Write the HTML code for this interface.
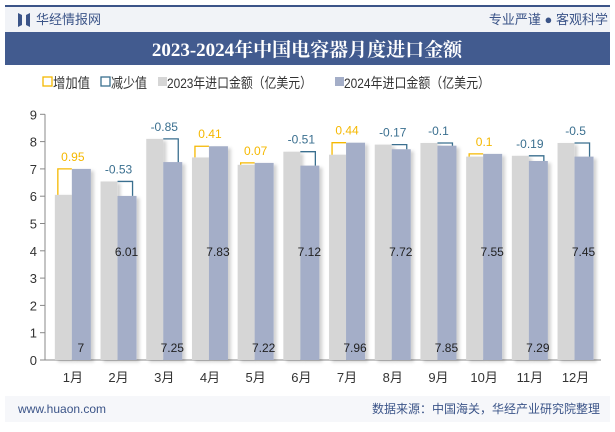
<!DOCTYPE html>
<html><head><meta charset="utf-8"><style>
body{margin:0;width:615px;height:427px;overflow:hidden;background:#fff;font-family:"Liberation Sans","Noto Sans CJK SC",sans-serif;}
</style></head><body>
<svg width="615" height="427" xmlns="http://www.w3.org/2000/svg" font-family="Liberation Sans, Noto Sans CJK SC, sans-serif">
<defs><filter id="sh" x="-20%" y="-5%" width="160%" height="110%"><feDropShadow dx="3" dy="2" stdDeviation="1.5" flood-color="#000" flood-opacity="0.18"/></filter></defs>
<rect x="5" y="5" width="605" height="2" fill="#3b5488"/>
<rect x="5" y="7" width="605" height="25" fill="#f1f3f7"/>
<g><path d="M18 13 l4 2 v10 l-4 2z M26 15 l4 -2 v14 l-4 -2z" fill="#3b5488"/></g>
<text x="36" y="24" font-size="13" fill="#3b5488">华经情报网</text>
<text x="608" y="24" font-size="13" fill="#3b5488" text-anchor="end">专业严谨 ● 客观科学</text>
<rect x="5" y="32" width="605" height="33" fill="#425b8f"/>
<text x="307" y="56" font-size="19" font-weight="bold" fill="#fff" text-anchor="middle" font-family="Liberation Serif, Noto Serif CJK SC, serif">2023-2024年中国电容器月度进口金额</text>
<g font-size="14" fill="#333">
<rect x="43" y="77" width="9" height="9" fill="none" stroke="#f5b800" stroke-width="1.3"/>
<text x="53" y="88" textLength="37" lengthAdjust="spacingAndGlyphs">增加值</text>
<rect x="101" y="77" width="9" height="9" fill="none" stroke="#3a6f8f" stroke-width="1.3"/>
<text x="111" y="88" textLength="36" lengthAdjust="spacingAndGlyphs">减少值</text>
<rect x="158" y="77" width="9" height="9" fill="#d6d6d6"/>
<text x="167" y="88" textLength="145" lengthAdjust="spacingAndGlyphs">2023年进口金额（亿美元）</text>
<rect x="335" y="77" width="9" height="9" fill="#a4aec8"/>
<text x="344" y="88" textLength="146" lengthAdjust="spacingAndGlyphs">2024年进口金额（亿美元）</text>
</g>
<g id="chart"></g>
<rect x="5" y="396" width="605" height="26" fill="#f6f7fa"/>
<text x="18" y="413" font-size="12" fill="#3b5488">www.huaon.com</text>
<text x="600" y="413" font-size="12" fill="#3b5488" text-anchor="end">数据来源：中国海关，华经产业研究院整理</text>
</svg>
<script>
const categories=["1月","2月","3月","4月","5月","6月","7月","8月","9月","10月","11月","12月"];
const values2023=[6.05,6.54,8.10,7.42,7.15,7.63,7.52,7.89,7.95,7.45,7.48,7.95];
const values2024=[7,6.01,7.25,7.83,7.22,7.12,7.96,7.72,7.85,7.55,7.29,7.45];
const diffLabels=["0.95","-0.53","-0.85","0.41","0.07","-0.51","0.44","-0.17","-0.1","0.1","-0.19","-0.5"];
const yTicks=[0,1,2,3,4,5,6,7,8,9];
const NS="http://www.w3.org/2000/svg";
const g=document.getElementById('chart');
const x0=50,step=45.7,y0=360,pu=27.3;
const yS=v=>y0-v*pu;
const xC=i=>x0+step*(i+0.5);
function mk(t,a,txt){const e=document.createElementNS(NS,t);for(const k in a)e.setAttribute(k,a[k]);if(txt!==undefined)e.textContent=txt;g.appendChild(e);return e;}
const ax=mk('line',{x1:45,y1:yS(9),x2:45,y2:y0,stroke:'#888'});


const bx=mk('line',{x1:45,y1:y0,x2:601,y2:y0,stroke:'#888'});


yTicks.forEach(v=>{
 const t=mk('line',{x1:40,y1:yS(v),x2:45,y2:yS(v),stroke:'#888'});
 
 
 const l=mk('text',{x:37,y:yS(v)+5,'font-size':13,fill:'#333','text-anchor':'end'},String(v));
 
 
});
categories.forEach((c,i)=>{
 const cx=xC(i),a=values2023[i],b=values2024[i];
 const r1=mk('rect',{x:cx-18,y:yS(a),width:17,height:y0-yS(a),fill:'#d6d6d6',filter:'url(#sh)'});
 
 
 const r2=mk('rect',{x:cx-1,y:yS(b),width:19,height:y0-yS(b),fill:'#a4aec8',filter:'url(#sh)'});
 
 
 const inc=b>=a,col=inc?'#f5b800':'#3a6f8f';
 let d;
 if(inc) d=`M${cx-15} ${yS(a)} V${yS(b)} H${cx-1}`;
 else d=`M${cx-1} ${yS(a)} H${cx+14} V${yS(b)}`;
 const p=mk('path',{d:d,fill:'none',stroke:col,'stroke-width':1.3});
 
 
 const dl=mk('text',{x:cx,y:Math.min(yS(a),yS(b))-8,'font-size':12,fill:col,'text-anchor':'middle'},diffLabels[i]);
 
 
 const vl=mk('text',{x:cx+8,y:(i%2===1)?256:352,'font-size':12,fill:'#222','text-anchor':'middle'},String(b));
 
 
 const xl=mk('text',{x:cx,y:382,'font-size':13,fill:'#333','text-anchor':'middle'},c);
 
 
});
</script>
</body></html>
